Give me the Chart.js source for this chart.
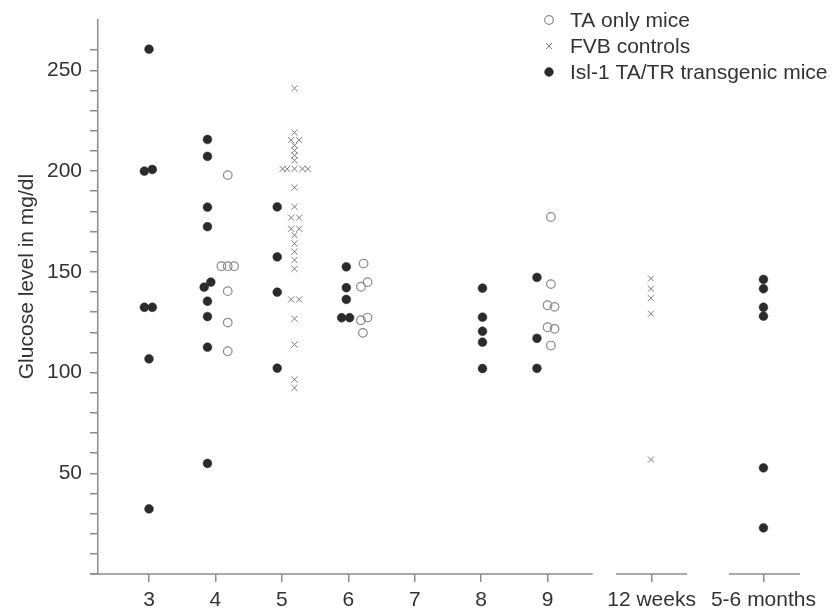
<!DOCTYPE html>
<html>
<head>
<meta charset="utf-8">
<script src="https://cdn.jsdelivr.net/npm/chart.js@4.4.1/dist/chart.umd.min.js"></script>
<style>
  html, body { margin: 0; padding: 0; background: #fff; }
</style>
</head>
<body>
<canvas id="chart" width="835" height="612"></canvas>
<script>
// x axis categories and where they sit on the (broken) linear axis
const categories = ["3", "4", "5", "6", "7", "8", "9", "12 weeks", "5-6 months"];
const categoryPos = [3, 4, 5, 6, 7, 8, 9, 10.566, 12.25];

// Isl-1 TA/TR transgenic mice (filled dots)
const isletX = [3.0, 2.93, 3.05, 2.93, 3.05, 3.0, 3.0,
  3.88, 3.88, 3.88, 3.88, 3.93, 3.83, 3.88, 3.88, 3.88, 3.88,
  4.93, 4.93, 4.93, 4.93,
  5.97, 5.97, 5.97, 5.90, 6.02,
  8.02, 8.02, 8.02, 8.02, 8.02,
  8.84, 8.84, 8.84,
  12.25, 12.25, 12.25, 12.25, 12.25, 12.25];
const isletY = [260.5, 200.0, 200.8, 132.4, 132.4, 106.8, 32.3,
  215.7, 207.3, 182.1, 172.4, 144.9, 142.4, 135.4, 127.8, 112.6, 54.9,
  182.2, 157.4, 139.9, 102.2,
  152.5, 142.1, 136.3, 127.2, 127.2,
  141.9, 127.5, 120.5, 115.1, 102.0,
  147.2, 117.0, 102.1,
  146.2, 141.6, 132.4, 128.0, 52.7, 22.9];

// TA only mice (open circles)
const taOnlyX = [4.185, 4.09, 4.185, 4.28, 4.185, 4.185, 4.185,
  6.23, 6.19, 6.29, 6.19, 6.29, 6.22,
  9.05, 9.05, 9.0, 9.105, 9.0, 9.105, 9.05];
const taOnlyY = [198.0, 152.8, 152.8, 152.8, 140.4, 124.8, 110.6,
  154.1, 142.6, 144.9, 126.0, 127.3, 119.7,
  177.2, 143.9, 133.4, 132.6, 122.5, 121.7, 113.4];

// FVB controls (crosses)
const fvbX = [5.19, 5.19, 5.14, 5.26, 5.19, 5.19, 5.19, 5.19,
  5.01, 5.08, 5.19, 5.31, 5.39,
  5.19, 5.19, 5.14, 5.26, 5.14, 5.26,
  5.19, 5.19, 5.19, 5.19, 5.19,
  5.14, 5.26, 5.19, 5.19, 5.19, 5.19,
  10.556, 10.556, 10.556, 10.556, 10.556];
const fvbY = [241.1, 219.1, 215.4, 215.4, 212.8, 210.3, 207.8, 205.3,
  201.1, 201.1, 201.1, 201.1, 201.1,
  191.8, 182.3, 176.9, 176.9, 171.4, 171.4,
  168.2, 164.1, 160.0, 155.8, 151.5,
  136.3, 136.3, 126.7, 113.9, 96.5, 92.4,
  146.7, 141.6, 136.9, 129.2, 56.8];

const legendLabels = ["TA only mice", "FVB controls", "Isl-1 TA/TR transgenic mice"];
const yTitle = "Glucose level in mg/dl";

const zip = (xs, ys) => xs.map((x, i) => ({ x: x, y: ys[i] }));

const axisColor = "#8c8c8c";
const textColor = "#333";
const fontFamily = "'Liberation Sans', Arial, Helvetica, sans-serif";

Chart.defaults.font.family = fontFamily;
Chart.defaults.font.size = 21;
Chart.defaults.color = textColor;

// broken x axis: three separate baseline pieces
const axisPieces = [[2.112, 9.68], [10.03, 11.10], [11.73, 12.80]];

const extrasPlugin = {
  id: "extras",
  afterDraw(chart) {
    const ctx = chart.ctx;
    const xs = chart.scales.x;
    const area = chart.chartArea;

    ctx.save();
    ctx.strokeStyle = axisColor;
    ctx.lineWidth = 1.5;
    axisPieces.forEach(([a, b]) => {
      ctx.beginPath();
      ctx.moveTo(xs.getPixelForValue(a), area.bottom);
      ctx.lineTo(xs.getPixelForValue(b), area.bottom);
      ctx.stroke();
    });

    // y title
    ctx.fillStyle = textColor;
    ctx.font = "21px " + fontFamily;
    ctx.translate(33, 276.5);
    ctx.rotate(-Math.PI / 2);
    ctx.textAlign = "center";
    ctx.textBaseline = "alphabetic";
    ctx.fillText(yTitle, 0, 0);
    ctx.restore();

    // legend, top right
    ctx.save();
    ctx.font = "21px " + fontFamily;
    ctx.textAlign = "left";
    ctx.textBaseline = "middle";
    const rows = [20, 46, 72];
    chart.data.datasets.forEach((ds, i) => {
      ctx.strokeStyle = ds.borderColor;
      ctx.fillStyle = ds.backgroundColor;
      ctx.lineWidth = ds.borderWidth;
      Chart.helpers.drawPoint(ctx, {
        pointStyle: ds.pointStyle,
        radius: ds.pointRadius,
        borderWidth: ds.borderWidth,
        rotation: 0
      }, 549, rows[i]);
      ctx.fillStyle = textColor;
      ctx.fillText(legendLabels[i], 570, rows[i] + 1);
    });
    ctx.restore();
  }
};

new Chart(document.getElementById("chart"), {
  type: "scatter",
  data: {
    datasets: [
      {
        label: legendLabels[0],
        data: zip(taOnlyX, taOnlyY),
        pointStyle: "circle",
        pointRadius: 4.3,
        backgroundColor: "rgba(255,255,255,0)",
        borderColor: "#8a8a8a",
        borderWidth: 1.2
      },
      {
        label: legendLabels[1],
        data: zip(fvbX, fvbY),
        pointStyle: "crossRot",
        pointRadius: 4.3,
        backgroundColor: "#7a7a7a",
        borderColor: "#7a7a7a",
        borderWidth: 1
      },
      {
        label: legendLabels[2],
        data: zip(isletX, isletY),
        pointStyle: "circle",
        pointRadius: 4.4,
        backgroundColor: "#2b2b2b",
        borderColor: "#2b2b2b",
        borderWidth: 0.5
      }
    ]
  },
  options: {
    responsive: false,
    animation: false,
    layout: { padding: { top: 20, right: 35, left: 0, bottom: 0 } },
    plugins: {
      legend: { display: false },
      tooltip: { enabled: false }
    },
    scales: {
      x: {
        type: "linear",
        min: 2.232,
        max: 12.8,
        border: { display: false },
        grid: {
          drawOnChartArea: false,
          drawTicks: true,
          tickLength: 8,
          color: axisColor,
          lineWidth: 1.5
        },
        afterBuildTicks: (scale) => {
          scale.ticks = categoryPos.map((v) => ({ value: v }));
        },
        ticks: {
          autoSkip: false,
          maxRotation: 0,
          padding: 6,
          color: textColor,
          callback: (value, index) => categories[index]
        },
        afterFit: (scale) => {
          scale.height = 38;
          scale.paddingLeft = 0;
          scale.paddingRight = 0;
        }
      },
      y: {
        type: "linear",
        min: 0,
        max: 275,
        border: { display: true, color: axisColor, width: 1.5 },
        grid: {
          drawOnChartArea: false,
          drawTicks: true,
          tickLength: 8,
          color: axisColor,
          lineWidth: 1.5
        },
        afterBuildTicks: (scale) => {
          scale.ticks = scale.ticks.filter((t) => t.value % 10 === 0);
        },
        ticks: {
          stepSize: 10,
          autoSkip: false,
          padding: 8,
          color: textColor,
          callback: (value) => (value > 0 && value % 50 === 0 ? String(value) : "")
        },
        afterFit: (scale) => {
          scale.width = 98;
          scale.paddingTop = 0;
          scale.paddingBottom = 0;
        }
      }
    }
  },
  plugins: [extrasPlugin]
});
</script>
</body>
</html>
